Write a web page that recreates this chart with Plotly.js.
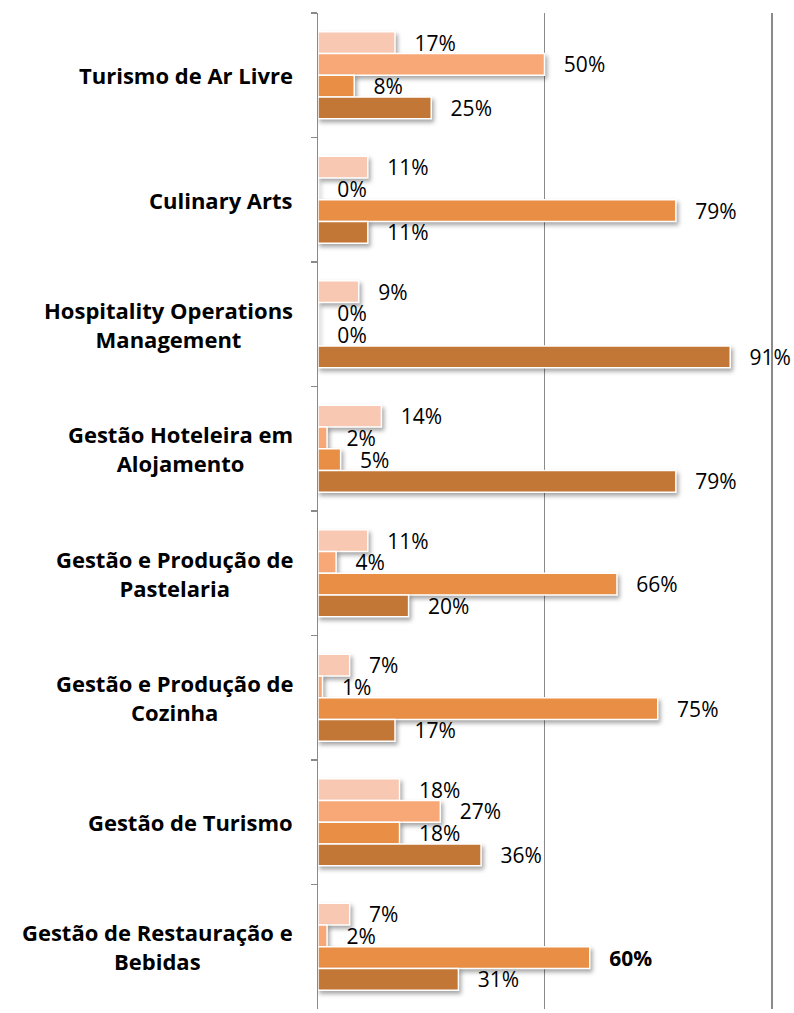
<!DOCTYPE html>
<html>
<head>
<meta charset="utf-8">
<script src="https://cdn.plot.ly/plotly-3.0.1.min.js"></script>
<style>
html,body{margin:0;padding:0;background:#fff;}
#chart{width:794px;height:1013px;}
.barlayer .point path{filter:drop-shadow(2px 3px 2px rgba(0,0,0,0.35));}
</style>
</head>
<body>
<div id="chart"></div>
<script>
var categories = [
  "Turismo de Ar Livre",
  "Culinary Arts",
  "Hospitality Operations<br>Management",
  "Gestão Hoteleira em<br>Alojamento",
  "Gestão e Produção de<br>Pastelaria",
  "Gestão e Produção de<br>Cozinha",
  "Gestão de Turismo",
  "Gestão de Restauração e<br>Bebidas"
];
var series1 = [17, 11, 9, 14, 11, 7, 18, 7];
var series2 = [50, 0, 0, 2, 4, 1, 27, 2];
var series3 = [8, 79, 0, 5, 66, 75, 18, 60];
var series4 = [25, 11, 91, 79, 20, 17, 36, 31];
var boldLabels3 = [false, false, false, false, false, false, false, true];
var colors = ["#F9C8B2", "#F7A876", "#E98E45", "#C37737"];

var catKeys = categories.map(function(c){ return c.replace(/<br>/g, " "); });

function labels(vals, bold){
  return vals.map(function(v, i){
    var t = v + "%";
    if (bold && bold[i]) t = "<b>" + t + "</b>";
    return "\u00a0\u00a0\u00a0" + t;
  });
}

var allSeries = [series1, series2, series3, series4];
var bolds = [null, null, boldLabels3, null];
var traces = allSeries.map(function(s, k){
  return {
    type: "bar",
    orientation: "h",
    x: s,
    y: catKeys,
    text: labels(s, bolds[k]),
    textposition: "outside",
    constraintext: "none",
    cliponaxis: false,
    textfont: {family: "Open Sans, sans-serif", size: 21, color: "#000"},
    marker: {color: colors[k], line: {color: "#ffffff", width: 1.5}},
    hoverinfo: "none",
    showlegend: false
  };
});

var annotations = categories.map(function(c, i){
  return {
    xref: "paper", x: 0, xshift: -23, xanchor: "right",
    yref: "y", y: catKeys[i], yanchor: "middle",
    text: "<b>" + c + "</b>", showarrow: false, align: "center",
    font: {family: "Open Sans, sans-serif", size: 22, color: "#000"}
  };
});

var layout = {
  width: 794, height: 1013,
  margin: {l: 318, r: 23, t: 13, b: 4},
  paper_bgcolor: "#fff", plot_bgcolor: "#fff",
  barmode: "group", bargap: 0.3, bargroupgap: 0,
  xaxis: {
    range: [0, 100], tickvals: [50, 100], showticklabels: false,
    showgrid: true, gridcolor: "#8a8a8a", gridwidth: 1.5,
    zeroline: false, showline: false, fixedrange: true
  },
  yaxis: {
    autorange: "reversed", type: "category",
    showticklabels: false, showline: true, mirror: true,
    linecolor: "#8a8a8a", linewidth: 1.5,
    ticks: "outside", ticklen: 6, tickcolor: "#8a8a8a", tickwidth: 1.5,
    tickson: "boundaries", showgrid: false, zeroline: false, fixedrange: true
  },
  annotations: annotations
};

Plotly.newPlot("chart", traces, layout, {displayModeBar: false, staticPlot: true});
</script>
</body>
</html>
